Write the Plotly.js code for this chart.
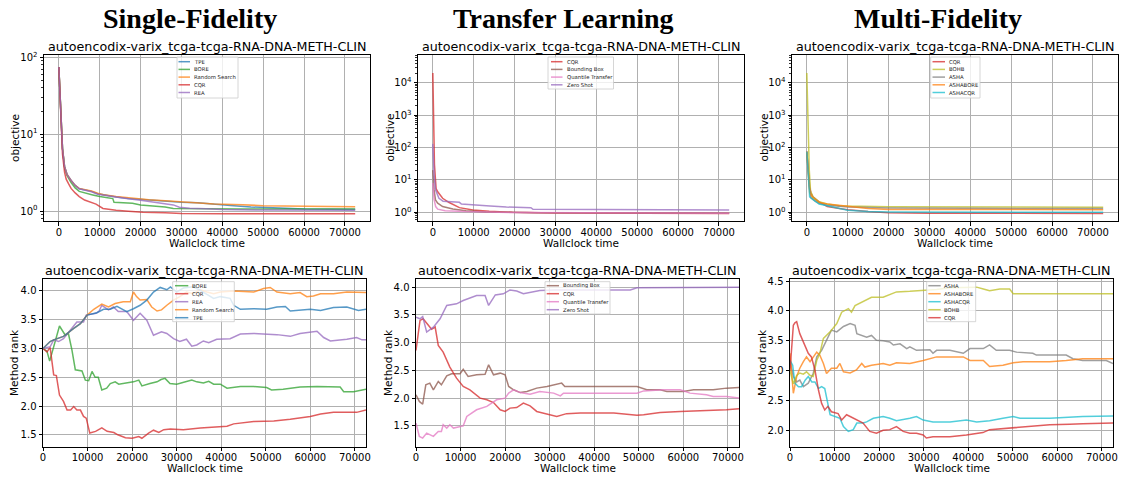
<!DOCTYPE html>
<html>
<head>
<meta charset="utf-8">
<script src="https://cdn.plot.ly/plotly-3.0.1.min.js"></script>
<style>
  html, body { margin: 0; padding: 0; background: #ffffff; }
  #chart { width: 1124px; height: 480px; }
</style>
</head>
<body>
<div id="chart"></div>
<script>
// ---------------- data ----------------
const groupTitles = ['Single-Fidelity', 'Transfer Learning', 'Multi-Fidelity'];
const benchmarkName = 'autoencodix-varix_tcga-tcga-RNA-DNA-METH-CLIN';
const xAxisLabel = 'Wallclock time';
const xTickValues = [0, 10000, 20000, 30000, 40000, 50000, 60000, 70000];

// Single-fidelity: best objective over wallclock time
const sfObjNames = ['TPE', 'BORE', 'Random Search', 'CQR', 'REA'];
const sfObjTPE_t = [0, 200, 500, 900, 1400, 2000, 3000, 4000, 5000, 6500, 8000, 9500, 11000, 14000, 17000, 20000, 23000, 26000, 30000, 34000, 37500, 42000, 47000, 52000, 60000, 72500];
const sfObjTPE_v = [75, 40, 16, 6.5, 3.8, 3.0, 2.5, 2.15, 1.95, 1.88, 1.8, 1.68, 1.62, 1.52, 1.46, 1.42, 1.38, 1.33, 1.30, 1.28, 1.23, 1.18, 1.13, 1.10, 1.06, 1.05];
const sfObjBORE_t = [0, 200, 500, 900, 1400, 2000, 3000, 4000, 5000, 6500, 8300, 10000, 12000, 13200, 13500, 16000, 18000, 20000, 24000, 26000, 28000, 35000, 45000, 72500];
const sfObjBORE_v = [75, 40, 16, 6.5, 3.7, 2.9, 2.35, 2.0, 1.8, 1.7, 1.62, 1.54, 1.48, 1.45, 1.3, 1.28, 1.26, 1.2, 1.16, 1.13, 1.08, 1.07, 1.06, 1.06];
const sfObjRS_t = [0, 200, 500, 900, 1400, 2000, 3000, 4000, 5000, 6500, 8000, 9500, 11000, 14000, 17000, 20000, 22000, 26000, 30000, 35000, 38000, 45000, 50000, 55000, 62000, 72500];
const sfObjRS_v = [75, 40, 16, 6.5, 3.8, 3.0, 2.5, 2.15, 1.97, 1.9, 1.82, 1.7, 1.63, 1.54, 1.48, 1.43, 1.40, 1.36, 1.32, 1.28, 1.23, 1.21, 1.17, 1.16, 1.15, 1.14];
const sfObjCQR_t = [0, 200, 500, 900, 1400, 1800, 2400, 3000, 4000, 5000, 6300, 8000, 9100, 10800, 12500, 14000, 17000, 20600, 26000, 30000, 40000, 72500];
const sfObjCQR_v = [75, 40, 15, 5.5, 3.2, 2.6, 2.25, 1.97, 1.72, 1.54, 1.39, 1.3, 1.23, 1.08, 1.04, 1.02, 0.99, 0.96, 0.95, 0.93, 0.92, 0.92];
const sfObjREA_t = [0, 200, 500, 900, 1400, 2000, 3000, 4000, 5000, 6500, 8000, 9500, 11000, 14000, 17000, 20000, 23000, 26000, 28000, 29500, 32000, 36000, 40000, 50000, 72500];
const sfObjREA_v = [75, 40, 16, 6.5, 3.8, 3.0, 2.5, 2.15, 1.95, 1.88, 1.78, 1.65, 1.6, 1.5, 1.44, 1.38, 1.32, 1.25, 1.2, 1.12, 1.09, 1.07, 1.05, 1.03, 1.02];

// Transfer learning: best objective over wallclock time
const tlObjNames = ['CQR', 'Bounding Box', 'Quantile Transfer', 'Zero Shot'];
const tlObjCQR_t = [0, 400, 800, 1200, 2400, 4000, 6500, 9800, 13800, 19500, 30000, 72500];
const tlObjCQR_v = [20000, 30, 5.4, 4.3, 2.7, 2.0, 1.39, 1.18, 1.07, 1.0, 0.95, 0.91];
const tlObjBB_t = [0, 300, 650, 1200, 2400, 4900, 8100, 13000, 25000, 72500];
const tlObjBB_v = [20, 5, 2.4, 1.9, 1.5, 1.26, 1.12, 1.02, 0.97, 0.93];
const tlObjQT_t = [0, 300, 700, 1200, 3000, 8000, 20000, 72500];
const tlObjQT_v = [8, 2.5, 1.5, 1.25, 1.12, 1.05, 0.98, 0.93];
const tlObjZS_t = [0, 300, 700, 1500, 2500, 4000, 6500, 7000, 9500, 14000, 18000, 24000, 24500, 50000, 72500];
const tlObjZS_v = [130, 15, 4.8, 2.7, 2.2, 2.12, 2.03, 1.8, 1.68, 1.56, 1.45, 1.39, 1.24, 1.21, 1.18];

// Multi-fidelity: best objective over wallclock time
const mfObjNames = ['CQR', 'BOHB', 'ASHA', 'ASHABORE', 'ASHACQR'];
const mfObjCQR_t = [0, 400, 700, 1000, 1500, 3000, 5000, 8000, 10000, 15000, 20000, 30000, 72500];
const mfObjCQR_v = [75, 15, 6, 4, 3, 2.1, 1.5, 1.3, 1.2, 1.05, 0.97, 0.93, 0.92];
const mfObjBOHB_t = [0, 300, 600, 900, 1500, 3000, 5000, 8000, 10000, 20000, 72500];
const mfObjBOHB_v = [20000, 500, 20, 4.5, 3, 2.1, 1.8, 1.6, 1.55, 1.48, 1.42];
const mfObjASHA_t = [0, 300, 600, 1000, 2000, 3000, 5000, 10000, 20000, 40000, 72500];
const mfObjASHA_v = [75, 15, 6, 2.8, 2.2, 1.9, 1.65, 1.45, 1.35, 1.32, 1.3];
const mfObjASHABORE_t = [0, 300, 700, 1500, 3000, 5000, 10000, 15000, 20000, 72500];
const mfObjASHABORE_v = [75, 15, 4, 2.7, 2.0, 1.8, 1.5, 1.3, 1.22, 1.2];
const mfObjASHACQR_t = [0, 300, 700, 1500, 3000, 5000, 8000, 10000, 15000, 20000, 72500];
const mfObjASHACQR_v = [75, 15, 3, 2.5, 1.8, 1.6, 1.3, 1.15, 1.05, 1.02, 1.0];

// Single-fidelity: average method rank over wallclock time
const sfRankNames = ['BORE', 'CQR', 'REA', 'Random Search', 'TPE'];
const sfRankBORE_t = [0, 900, 1500, 2400, 3700, 5000, 5700, 6500, 7250, 8750, 9500, 10250, 11000, 11700, 12400, 13200, 14300, 15100, 16200, 17000, 20300, 21500, 22200, 24000, 25600, 26500, 27400, 28500, 30000, 32000, 33400, 34500, 36000, 37200, 38300, 39800, 41300, 44300, 47300, 50200, 51300, 53900, 57700, 61500, 66700, 67500, 69700, 72500];
const sfRankBORE_v = [3.0, 2.95, 2.78, 3.05, 3.39, 3.23, 3.26, 2.97, 2.63, 2.61, 2.45, 2.44, 2.6, 2.5, 2.5, 2.28, 2.31, 2.39, 2.42, 2.38, 2.42, 2.45, 2.35, 2.39, 2.42, 2.46, 2.48, 2.39, 2.38, 2.42, 2.45, 2.42, 2.4, 2.43, 2.38, 2.38, 2.31, 2.34, 2.34, 2.32, 2.28, 2.29, 2.33, 2.34, 2.33, 2.25, 2.25, 2.29];
const sfRankCQR_t = [0, 900, 1600, 2400, 3000, 3700, 4600, 5400, 6200, 6900, 7600, 8400, 9100, 9700, 10500, 11800, 13200, 14400, 15900, 16800, 18500, 20000, 21500, 22200, 23700, 24800, 26000, 27100, 28600, 31500, 35300, 38300, 41300, 42800, 47300, 51800, 55500, 60000, 62300, 65200, 70400, 72500];
const sfRankCQR_v = [3.0, 2.94, 3.02, 2.54, 2.53, 2.19, 2.08, 1.93, 1.93, 1.99, 1.93, 1.93, 1.82, 1.79, 1.53, 1.56, 1.62, 1.56, 1.54, 1.5, 1.45, 1.44, 1.47, 1.44, 1.53, 1.58, 1.54, 1.59, 1.6, 1.59, 1.62, 1.64, 1.65, 1.69, 1.73, 1.74, 1.77, 1.82, 1.86, 1.89, 1.89, 1.93];
const sfRankREA_t = [0, 1600, 2400, 3500, 4600, 6100, 7600, 9100, 9700, 11900, 12600, 13200, 14700, 15800, 16900, 18800, 20300, 21800, 23300, 24800, 26600, 27800, 29300, 30700, 32200, 33400, 34500, 36000, 37200, 39000, 42000, 44300, 47300, 52500, 55500, 57700, 60000, 61500, 63000, 64500, 68200, 70400, 71600, 72500];
const sfRankREA_v = [3.0, 3.03, 3.15, 3.12, 3.17, 3.32, 3.46, 3.46, 3.58, 3.61, 3.65, 3.75, 3.67, 3.72, 3.64, 3.64, 3.49, 3.61, 3.49, 3.23, 3.29, 3.26, 3.17, 3.12, 3.16, 3.04, 3.06, 3.13, 3.1, 3.16, 3.17, 3.25, 3.26, 3.24, 3.21, 3.26, 3.29, 3.3, 3.19, 3.13, 3.16, 3.19, 3.15, 3.15];
const sfRankRS_t = [0, 1600, 2400, 4600, 6900, 8400, 9900, 11400, 13200, 14700, 16200, 18000, 19600, 20300, 21000, 21800, 23300, 24400, 25600, 26600, 27800, 29300, 30700, 32200, 33700, 35300, 36800, 38300, 39800, 42800, 47300, 49500, 51000, 52500, 55500, 57700, 59200, 60700, 62300, 65200, 68200, 69700, 72500];
const sfRankRS_v = [3.0, 3.12, 3.15, 3.21, 3.35, 3.43, 3.58, 3.68, 3.77, 3.72, 3.78, 3.81, 3.81, 3.98, 3.9, 3.84, 3.85, 3.72, 3.65, 3.67, 3.75, 3.84, 3.9, 3.98, 3.95, 4.02, 3.98, 3.95, 3.98, 4.0, 3.98, 4.04, 4.06, 3.98, 3.95, 3.97, 3.9, 3.91, 3.95, 3.95, 3.98, 3.98, 3.97];
const sfRankTPE_t = [0, 1600, 2400, 4600, 6900, 8400, 9900, 12100, 13600, 15100, 16600, 18800, 20300, 21800, 23300, 24800, 26300, 27800, 28600, 30000, 31500, 33700, 35300, 38300, 39800, 42000, 42800, 44300, 47300, 50200, 52500, 54400, 55500, 57700, 60000, 62300, 65200, 68200, 69700, 70800, 72500];
const sfRankTPE_v = [3.0, 3.12, 3.15, 3.21, 3.35, 3.43, 3.58, 3.62, 3.68, 3.68, 3.73, 3.64, 3.69, 3.75, 3.84, 3.98, 4.06, 4.02, 4.07, 3.98, 4.05, 4.07, 4.01, 3.87, 3.9, 3.87, 3.75, 3.68, 3.69, 3.68, 3.72, 3.73, 3.65, 3.66, 3.68, 3.66, 3.71, 3.72, 3.69, 3.66, 3.68];

// Transfer learning: average method rank over wallclock time
const tlRankNames = ['Bounding Box', 'CQR', 'Quantile Transfer', 'Zero Shot'];
const tlRankBB_t = [0, 750, 1500, 2200, 3100, 3900, 5000, 5700, 6900, 8000, 9900, 10600, 11700, 13600, 15500, 16300, 17400, 18900, 20000, 20800, 21900, 23400, 24900, 27100, 29400, 31600, 32700, 33400, 36900, 44400, 49600, 51800, 54800, 56300, 60000, 62300, 66700, 69700, 72500];
const tlRankBB_v = [2.06, 1.94, 1.89, 2.24, 2.27, 2.15, 2.3, 2.24, 2.4, 2.44, 2.44, 2.52, 2.39, 2.42, 2.43, 2.6, 2.42, 2.45, 2.42, 2.21, 2.15, 2.1, 2.12, 2.18, 2.21, 2.25, 2.27, 2.21, 2.21, 2.21, 2.21, 2.15, 2.15, 2.12, 2.12, 2.15, 2.15, 2.18, 2.19];
const tlRankCQR_t = [0, 900, 1600, 2400, 3500, 4300, 5000, 6100, 7600, 9100, 10600, 12100, 14400, 15900, 17400, 18900, 20000, 21100, 22600, 24100, 25600, 27100, 28600, 30100, 31600, 33800, 36900, 44400, 49600, 51100, 54800, 59300, 63000, 66700, 69700, 72500];
const tlRankCQR_v = [2.86, 3.4, 3.43, 3.35, 3.24, 3.28, 2.95, 2.83, 2.56, 2.36, 2.21, 2.15, 2.0, 1.97, 1.92, 1.79, 1.76, 1.82, 1.83, 1.91, 1.86, 1.76, 1.73, 1.70, 1.67, 1.72, 1.73, 1.73, 1.69, 1.70, 1.74, 1.76, 1.77, 1.79, 1.79, 1.81];
const tlRankQT_t = [0, 750, 1500, 2400, 3900, 5000, 5700, 6100, 6900, 7600, 8400, 9900, 10600, 11400, 13600, 15900, 18100, 20000, 20800, 21900, 23400, 25600, 27800, 30900, 32400, 33100, 36900, 49600, 51100, 55500, 59300, 61500, 65200, 66700, 69700, 72500];
const tlRankQT_v = [1.55, 1.31, 1.28, 1.37, 1.31, 1.4, 1.4, 1.52, 1.46, 1.52, 1.46, 1.49, 1.5, 1.67, 1.79, 1.85, 1.97, 2.0, 2.09, 2.15, 2.1, 2.07, 2.12, 2.09, 2.04, 2.09, 2.09, 2.09, 2.13, 2.15, 2.15, 2.09, 2.06, 2.03, 2.03, 2.0];
const tlRankZS_t = [0, 900, 1500, 2400, 3900, 5400, 6900, 9100, 10600, 13600, 15500, 16300, 17800, 19600, 21100, 22600, 24100, 26300, 27800, 30900, 36900, 44400, 48100, 49600, 59300, 60000, 72500];
const tlRankZS_v = [3.46, 3.43, 3.47, 3.19, 3.28, 3.43, 3.67, 3.70, 3.76, 3.85, 3.85, 3.67, 3.86, 3.88, 3.95, 3.93, 3.88, 3.91, 3.94, 3.95, 3.95, 3.95, 3.95, 3.99, 3.99, 4.0, 4.0];

// Multi-fidelity: average method rank over wallclock time
const mfRankNames = ['ASHA', 'ASHABORE', 'ASHACQR', 'BOHB', 'CQR'];
const mfRankASHA_t = [0, 750, 1500, 2200, 3000, 4100, 5200, 6000, 7100, 8200, 9300, 10500, 12000, 13500, 14600, 15000, 16100, 17200, 18300, 19400, 20900, 22400, 23200, 24700, 26200, 26900, 28400, 31400, 32100, 32900, 35900, 38900, 40400, 43400, 44800, 46300, 49300, 50800, 54500, 55300, 62000, 63500, 65700, 71000, 72500];
const mfRankASHA_v = [3.17, 2.9, 2.81, 2.84, 2.73, 2.79, 2.95, 3.23, 3.34, 3.51, 3.68, 3.65, 3.74, 3.79, 3.76, 3.62, 3.59, 3.56, 3.59, 3.51, 3.5, 3.48, 3.43, 3.45, 3.37, 3.4, 3.34, 3.35, 3.29, 3.34, 3.34, 3.29, 3.37, 3.37, 3.43, 3.34, 3.34, 3.31, 3.29, 3.26, 3.26, 3.2, 3.17, 3.17, 3.12];
const mfRankASHABORE_t = [0, 750, 1500, 2200, 3000, 3700, 4500, 5200, 6000, 6700, 7500, 8200, 9300, 10500, 11200, 12000, 13500, 14900, 16100, 16800, 18300, 20900, 22400, 23900, 26900, 29900, 32900, 38900, 40400, 43400, 44800, 47800, 50100, 52300, 58300, 62000, 65700, 72500];
const mfRankASHABORE_v = [3.29, 2.62, 2.9, 3.04, 3.15, 3.23, 3.15, 3.23, 3.31, 3.26, 3.12, 2.95, 3.04, 3.04, 3.12, 2.98, 2.96, 3.01, 3.12, 3.06, 3.09, 3.12, 3.09, 3.13, 3.12, 3.17, 3.23, 3.23, 3.17, 3.17, 3.07, 3.09, 3.13, 3.15, 3.15, 3.17, 3.2, 3.2];
const mfRankASHACQR_t = [0, 600, 1100, 1900, 2600, 3400, 4100, 4900, 5600, 6400, 7100, 7800, 9000, 10100, 11200, 12000, 13100, 14200, 15000, 16400, 17200, 18700, 20900, 22400, 23900, 26900, 28400, 29900, 32100, 35900, 39600, 41900, 44800, 47800, 50100, 51600, 58300, 65700, 72500];
const mfRankASHACQR_v = [3.17, 3.09, 2.79, 2.73, 2.73, 2.84, 2.9, 2.81, 2.81, 2.7, 2.73, 2.7, 2.26, 2.23, 2.2, 2.06, 1.98, 2.01, 2.12, 2.12, 2.14, 2.2, 2.23, 2.2, 2.16, 2.2, 2.23, 2.17, 2.14, 2.14, 2.17, 2.14, 2.16, 2.2, 2.23, 2.2, 2.2, 2.23, 2.24];
const mfRankBOHB_t = [0, 750, 1500, 2200, 3000, 3700, 4500, 5200, 6000, 6700, 7500, 9000, 10500, 11600, 13100, 13800, 14600, 15700, 16800, 18300, 20900, 22400, 23900, 26900, 29900, 32900, 35900, 39600, 41900, 43400, 44800, 47100, 49300, 50100, 60000, 72500];
const mfRankBOHB_v = [3.0, 2.78, 2.92, 2.96, 2.94, 2.98, 2.92, 2.9, 3.17, 3.29, 3.54, 3.65, 3.79, 3.98, 4.04, 3.98, 4.09, 4.13, 4.18, 4.23, 4.23, 4.28, 4.32, 4.33, 4.34, 4.36, 4.39, 4.4, 4.4, 4.37, 4.34, 4.37, 4.37, 4.29, 4.29, 4.29];
const mfRankCQR_t = [0, 750, 1100, 1500, 2200, 3000, 4100, 4800, 5600, 6400, 7100, 7800, 8500, 9300, 10800, 11600, 12700, 13500, 15000, 16400, 17900, 19400, 20900, 22400, 23900, 25400, 26900, 28400, 29900, 30600, 32100, 35900, 39600, 43300, 44800, 47800, 50800, 53700, 58300, 62800, 65700, 72500];
const mfRankCQR_v = [3.0, 3.76, 3.8, 3.82, 3.62, 3.48, 3.29, 3.23, 3.01, 2.67, 2.45, 2.34, 2.4, 2.31, 2.28, 2.17, 2.26, 2.23, 2.17, 2.12, 1.98, 1.95, 2.0, 2.01, 2.06, 1.98, 1.95, 1.95, 1.92, 1.87, 1.89, 1.89, 1.92, 1.96, 2.01, 2.03, 2.05, 2.07, 2.09, 2.1, 2.11, 2.12];

// ---------------- styling / layout ----------------
const W = 1124, H = 480;
const FONT = 'DejaVu Sans, Verdana, sans-serif';
const RGB = {
  blue: '31,119,180', orange: '255,127,14', green: '44,160,44', red: '214,39,40',
  purple: '148,103,189', brown: '140,86,75', pink: '227,119,194', gray: '127,127,127',
  olive: '188,189,34', cyan: '23,190,207'
};
const rgba = (c, a) => 'rgba(' + RGB[c] + ',' + a + ')';
const px = p => p / W;          // pixel -> paper x
const py = p => 1 - p / H;      // pixel -> paper y

const supDigits = n => '10<sup>' + n + '</sup>';

// frame = [left, top, right, bottom] of each plotting area in pixels;
// yLabelX = horizontal centre of the rotated y-axis label
const panels = [
  { names: sfObjNames, colors: ['blue', 'green', 'orange', 'red', 'purple'],
    t: [sfObjTPE_t, sfObjBORE_t, sfObjRS_t, sfObjCQR_t, sfObjREA_t],
    v: [sfObjTPE_v, sfObjBORE_v, sfObjRS_v, sfObjCQR_v, sfObjREA_v],
    frame: [44, 55, 370, 221], log: true, yRange: [-0.13, 2.03], decades: [0, 1, 2],
    yTitle: 'objective', yLabelX: 15,
    leg: { box: [177, 57, 238, 98], y0: 61.7, dy: 7.7, lx: [178.5, 190], tx: 193 } },
  { names: tlObjNames, colors: ['red', 'brown', 'pink', 'purple'],
    t: [tlObjCQR_t, tlObjBB_t, tlObjQT_t, tlObjZS_t],
    v: [tlObjCQR_v, tlObjBB_v, tlObjQT_v, tlObjZS_v],
    frame: [418, 55, 744, 221], log: true, yRange: [-0.27, 4.86], decades: [0, 1, 2, 3, 4],
    yTitle: 'objective', yLabelX: 389.5,
    leg: { box: [548, 57, 613.5, 89], y0: 61.7, dy: 7.7, lx: [551, 562.5], tx: 566 } },
  { names: mfObjNames, colors: ['red', 'olive', 'gray', 'orange', 'cyan'],
    t: [mfObjCQR_t, mfObjBOHB_t, mfObjASHA_t, mfObjASHABORE_t, mfObjASHACQR_t],
    v: [mfObjCQR_v, mfObjBOHB_v, mfObjASHA_v, mfObjASHABORE_v, mfObjASHACQR_v],
    frame: [792, 55, 1118, 221], log: true, yRange: [-0.27, 4.86], decades: [0, 1, 2, 3, 4],
    yTitle: 'objective', yLabelX: 763.5,
    leg: { box: [930.7, 57, 980, 98], y0: 61.7, dy: 7.7, lx: [932.5, 945], tx: 948 } },
  { names: sfRankNames, colors: ['green', 'red', 'purple', 'orange', 'blue'],
    t: [sfRankBORE_t, sfRankCQR_t, sfRankREA_t, sfRankRS_t, sfRankTPE_t],
    v: [sfRankBORE_v, sfRankCQR_v, sfRankREA_v, sfRankRS_v, sfRankTPE_v],
    frame: [43, 278.5, 366, 446.5], log: false, yRange: [1.297, 4.215], yTicks: [1.5, 2.0, 2.5, 3.0, 3.5, 4.0],
    yTitle: 'Method rank', yLabelX: 13.5,
    leg: { box: [172.7, 281.7, 234.3, 321.7], y0: 285.7, dy: 8, lx: [175, 188.3], tx: 190.7 } },
  { names: tlRankNames, colors: ['brown', 'red', 'pink', 'purple'],
    t: [tlRankBB_t, tlRankCQR_t, tlRankQT_t, tlRankZS_t],
    v: [tlRankBB_v, tlRankCQR_v, tlRankQT_v, tlRankZS_v],
    frame: [416, 278.5, 739, 446.5], log: false, yRange: [1.128, 4.156], yTicks: [1.5, 2.0, 2.5, 3.0, 3.5, 4.0],
    yTitle: 'Method rank', yLabelX: 387.5,
    leg: { box: [545, 281.7, 610, 314], y0: 285.7, dy: 8, lx: [546.7, 559], tx: 562.3 } },
  { names: mfRankNames, colors: ['gray', 'orange', 'cyan', 'olive', 'red'],
    t: [mfRankASHA_t, mfRankASHABORE_t, mfRankASHACQR_t, mfRankBOHB_t, mfRankCQR_t],
    v: [mfRankASHA_v, mfRankASHABORE_v, mfRankASHACQR_v, mfRankBOHB_v, mfRankCQR_v],
    frame: [790, 278.5, 1113, 446.5], log: false, yRange: [1.727, 4.545], yTicks: [2.0, 2.5, 3.0, 3.5, 4.0, 4.5],
    yTitle: 'Method rank', yLabelX: 761.5,
    leg: { box: [926.7, 281.7, 975.7, 321.7], y0: 285.7, dy: 8, lx: [928.3, 940.7], tx: 943.3 } }
];

const data = [];
const layout = {
  width: W, height: H,
  margin: { l: 0, r: 0, t: 0, b: 0 },
  paper_bgcolor: '#ffffff', plot_bgcolor: '#ffffff',
  showlegend: false,
  font: { family: FONT, color: '#000000' },
  shapes: [], annotations: []
};

const baseAxis = () => ({
  showline: true, linecolor: '#000000', linewidth: 1, mirror: true,
  ticks: 'outside', ticklen: 3.5, tickwidth: 1, tickcolor: '#000000',
  showgrid: true, gridcolor: '#b0b0b0', gridwidth: 1, zeroline: false,
  tickfont: { family: FONT, size: 10, color: '#000000' }
});

const textNote = (text, x, y, size, extra) => Object.assign({
  text: text, xref: 'paper', yref: 'paper', x: px(x), y: py(y),
  xanchor: 'center', yanchor: 'middle', showarrow: false, borderpad: 0,
  font: { family: FONT, size: size, color: '#000000' }
}, extra || {});

panels.forEach((p, i) => {
  const id = i === 0 ? '' : String(i + 1);
  const [x0, y0, x1, y1] = p.frame;

  p.names.forEach((name, k) => {
    data.push({
      type: 'scatter', mode: 'lines', name: name,
      x: p.t[k], y: p.v[k],
      xaxis: 'x' + id, yaxis: 'y' + id,
      line: { color: rgba(p.colors[k], 0.75), width: 1.5 },
      hoverinfo: 'skip'
    });
  });

  const xa = Object.assign(baseAxis(), {
    domain: [px(x0), px(x1)], anchor: 'y' + id,
    range: p.log ? [-3625, 76125] : [0, 72500],
    tickmode: 'array', tickvals: xTickValues, tickformat: 'd',
    ticklabelstandoff: -2
  });
  const ya = Object.assign(baseAxis(), {
    domain: [py(y1), py(y0)], anchor: 'x' + id
  });
  if (p.log) {
    Object.assign(ya, {
      type: 'log', range: p.yRange, tickmode: 'array',
      tickvals: p.decades.map(d => Math.pow(10, d)),
      ticktext: p.decades.map(supDigits),
      minor: { ticks: 'outside', ticklen: 2, tickwidth: 0.8, tickcolor: '#000000', dtick: 'D1', showgrid: false }
    });
  } else {
    Object.assign(ya, { range: p.yRange, tickmode: 'array', tickvals: p.yTicks, tickformat: '.1f' });
  }
  layout['xaxis' + id] = xa;
  layout['yaxis' + id] = ya;

  // panel title and axis labels
  layout.annotations.push(textNote(benchmarkName, (x0 + x1) / 2, y0 - 8, 12.7));
  layout.annotations.push(textNote(xAxisLabel, (x0 + x1) / 2, y1 + 21.5, 10.5));
  layout.annotations.push(textNote(p.yTitle, p.yLabelX, (y0 + y1) / 2, 10.5, { textangle: -90 }));

  // legend box with line samples and labels
  const L = p.leg;
  layout.shapes.push({
    type: 'rect', xref: 'paper', yref: 'paper',
    x0: px(L.box[0]), x1: px(L.box[2]), y0: py(L.box[3]), y1: py(L.box[1]),
    fillcolor: 'rgba(255,255,255,0.8)', line: { color: '#cccccc', width: 0.8 }
  });
  p.names.forEach((name, k) => {
    const yy = L.y0 + k * L.dy;
    layout.shapes.push({
      type: 'line', xref: 'paper', yref: 'paper',
      x0: px(L.lx[0]), x1: px(L.lx[1]), y0: py(yy), y1: py(yy),
      line: { color: rgba(p.colors[k], 0.75), width: 1.5 }
    });
    layout.annotations.push(textNote(name, L.tx, yy, 5.3,
      { xanchor: 'left', font: { family: FONT, size: 5.3, color: '#222222' } }));
  });
});

// column headers
const headerX = [190, 563, 938];
groupTitles.forEach((t, i) => {
  layout.annotations.push(textNote('<b>' + t + '</b>', headerX[i], 18.5, 28,
    { font: { family: 'Liberation Serif, DejaVu Serif, serif', size: 28, color: '#000000' } }));
});

Plotly.newPlot('chart', data, layout, { staticPlot: true, displayModeBar: false });
</script>
</body>
</html>
